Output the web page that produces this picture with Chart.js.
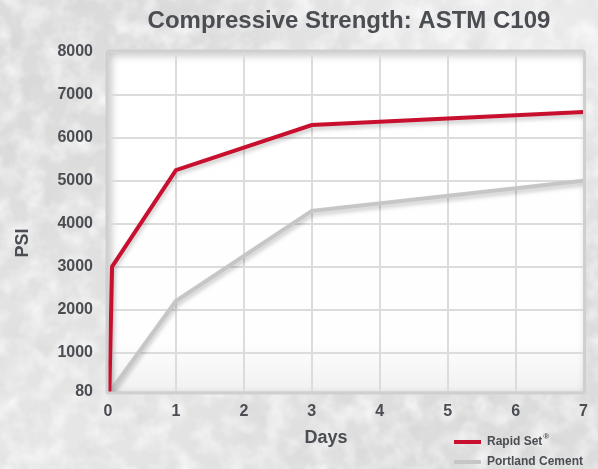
<!DOCTYPE html>
<html>
<head>
<meta charset="utf-8">
<title>Compressive Strength: ASTM C109</title>
<script src="https://cdn.jsdelivr.net/npm/chart.js@4.4.1/dist/chart.umd.min.js"></script>
<style>
    html, body { margin: 0; padding: 0; }
    body {
        width: 598px;
        height: 469px;
        overflow: hidden;
        background-color: #dcdcdc;
        background-image:
            url("data:image/svg+xml,%3Csvg xmlns='http://www.w3.org/2000/svg' width='598' height='469'%3E%3Cfilter id='n'%3E%3CfeTurbulence type='fractalNoise' baseFrequency='0.045' numOctaves='3' seed='7'/%3E%3CfeColorMatrix values='0 0 0 0 1 0 0 0 0 1 0 0 0 0 1 0 0 0 1.4 -0.55'/%3E%3C/filter%3E%3Crect width='100%25' height='100%25' filter='url(%23n)'/%3E%3C/svg%3E"),
            url("data:image/svg+xml,%3Csvg xmlns='http://www.w3.org/2000/svg' width='598' height='469'%3E%3Cfilter id='m'%3E%3CfeTurbulence type='fractalNoise' baseFrequency='0.03' numOctaves='2' seed='3'/%3E%3CfeColorMatrix values='0 0 0 0 0.6 0 0 0 0 0.6 0 0 0 0 0.6 0 0 0 0.9 -0.5'/%3E%3C/filter%3E%3Crect width='100%25' height='100%25' filter='url(%23m)'/%3E%3C/svg%3E"),
            radial-gradient(ellipse at 85% 5%, rgba(255,255,255,0.5), rgba(255,255,255,0) 45%),
            radial-gradient(ellipse at 10% 95%, rgba(255,255,255,0.3), rgba(255,255,255,0) 50%);
    }
    #wrap { position: relative; width: 598px; height: 469px; }
</style>
</head>
<body>
<div id="wrap"><canvas id="myChart" width="598" height="469"></canvas></div>
<script>
const title = "Compressive Strength: ASTM C109";
const xTitle = "Days";
const yTitle = "PSI";

const seriesNames = ["Rapid Set®", "Portland Cement"];
const seriesColors = ["#c8102e", "#c6c6c6"];

// days after casting, psi
const rapidDays = [0.02, 0.06, 1, 3, 7];
const rapidPsi = [80, 3000, 5250, 6300, 6600];
const portlandDays = [0.03, 1, 3, 7];
const portlandPsi = [80, 2200, 4300, 5000];

const yTicks = [80, 1000, 2000, 3000, 4000, 5000, 6000, 7000, 8000];
const xTicks = [0, 1, 2, 3, 4, 5, 6, 7];

const textColor = "#4a4d52";
const boldFont = "'Liberation Sans', Arial, sans-serif";

function toPoints(xs, ys) {
    return xs.map((x, i) => ({ x: x, y: ys[i] }));
}

// white panel behind the plot, with a soft inner shadow
const plotPanel = {
    id: "plotPanel",
    beforeDraw(chart) {
        const { ctx, chartArea: a } = chart;
        ctx.save();
        const g = ctx.createLinearGradient(0, a.top, 0, a.bottom);
        g.addColorStop(0, "#ffffff");
        g.addColorStop(0.85, "#fefefe");
        g.addColorStop(1, "#f1f1f1");
        ctx.fillStyle = g;
        ctx.fillRect(a.left, a.top, a.right - a.left, a.bottom - a.top);

        ctx.beginPath();
        ctx.rect(a.left, a.top, a.right - a.left, a.bottom - a.top);
        ctx.clip();
        ctx.shadowColor = "rgba(0,0,0,0.25)";
        ctx.shadowBlur = 8;
        ctx.shadowOffsetX = 3;
        ctx.shadowOffsetY = 3;
        ctx.strokeStyle = "#d0d0d0";
        ctx.lineWidth = 10;
        ctx.strokeRect(a.left - 5, a.top - 5, a.right - a.left + 10, a.bottom - a.top + 10);
        ctx.restore();
    },
    afterDraw(chart) {
        const { ctx, chartArea: a } = chart;
        ctx.save();
        ctx.strokeStyle = "#cfcfcf";
        ctx.lineWidth = 3;
        ctx.beginPath();
        ctx.roundRect(a.left - 1, a.top - 1, a.right - a.left + 2, a.bottom - a.top + 2, 2);
        ctx.stroke();
        ctx.restore();
    }
};

// drop shadow under the lines
const lineShadow = {
    id: "lineShadow",
    beforeDatasetsDraw(chart) {
        const ctx = chart.ctx;
        ctx.save();
        ctx.shadowColor = "rgba(0,0,0,0.22)";
        ctx.shadowBlur = 4;
        ctx.shadowOffsetX = 1;
        ctx.shadowOffsetY = 3;
    },
    afterDatasetsDraw(chart) {
        chart.ctx.restore();
    }
};

// title, axis titles and the small legend at bottom right
const labels = {
    id: "labels",
    afterDraw(chart) {
        const ctx = chart.ctx;
        ctx.save();
        ctx.fillStyle = textColor;

        ctx.font = "bold 24px " + boldFont;
        ctx.textAlign = "center";
        ctx.textBaseline = "middle";
        ctx.fillText(title, 349, 21);

        ctx.font = "bold 18px " + boldFont;
        ctx.fillText(xTitle, 326, 438);

        ctx.save();
        ctx.translate(23, 243);
        ctx.rotate(-Math.PI / 2);
        ctx.fillText(yTitle, 0, 0);
        ctx.restore();

        ctx.textAlign = "left";
        chart.data.datasets.forEach((ds, i) => {
            const y = 442 + i * 20;
            ctx.strokeStyle = ds.borderColor;
            ctx.lineWidth = 4;
            ctx.beginPath();
            ctx.moveTo(454, y);
            ctx.lineTo(481, y);
            ctx.stroke();

            let text = ds.label;
            let sup = "";
            if (text.endsWith("®")) {
                sup = "®";
                text = text.slice(0, -1);
            }
            ctx.font = "bold 12px " + boldFont;
            ctx.fillText(text, 487, y);
            if (sup) {
                const w = ctx.measureText(text).width;
                ctx.font = "bold 8px " + boldFont;
                ctx.fillText(sup, 487 + w + 1, y - 5);
            }
        });
        ctx.restore();
    }
};

const ctx = document.getElementById("myChart");

new Chart(ctx, {
    type: "line",
    data: {
        datasets: [
            {
                label: seriesNames[0],
                data: toPoints(rapidDays, rapidPsi),
                borderColor: seriesColors[0],
                borderWidth: 4,
                pointRadius: 0,
                tension: 0
            },
            {
                label: seriesNames[1],
                data: toPoints(portlandDays, portlandPsi),
                borderColor: seriesColors[1],
                borderWidth: 4,
                pointRadius: 0,
                tension: 0
            }
        ]
    },
    options: {
        responsive: false,
        animation: false,
        layout: { padding: { top: 52, right: 6, left: 0, bottom: 0 } },
        plugins: {
            legend: { display: false },
            title: { display: false },
            tooltip: { enabled: false }
        },
        scales: {
            x: {
                type: "linear",
                min: 0,
                max: 7,
                afterBuildTicks(scale) {
                    scale.ticks = xTicks.map(v => ({ value: v }));
                },
                afterFit(scale) {
                    scale.height = 77;
                },
                grid: { color: "#dcdcdc", lineWidth: 2, drawTicks: false },
                border: { display: false },
                ticks: {
                    padding: 10,
                    color: textColor,
                    font: { family: boldFont, size: 16, weight: "bold" },
                    callback: v => String(v)
                }
            },
            y: {
                min: 80,
                max: 8000,
                afterBuildTicks(scale) {
                    scale.ticks = yTicks.map(v => ({ value: v }));
                },
                afterFit(scale) {
                    scale.width = 108;
                },
                grid: { color: "#dcdcdc", lineWidth: 2, drawTicks: false },
                border: { display: false },
                ticks: {
                    padding: 15,
                    color: textColor,
                    font: { family: boldFont, size: 16, weight: "bold" },
                    callback: v => String(v)
                }
            }
        }
    },
    plugins: [plotPanel, lineShadow, labels]
});
</script>
</body>
</html>
